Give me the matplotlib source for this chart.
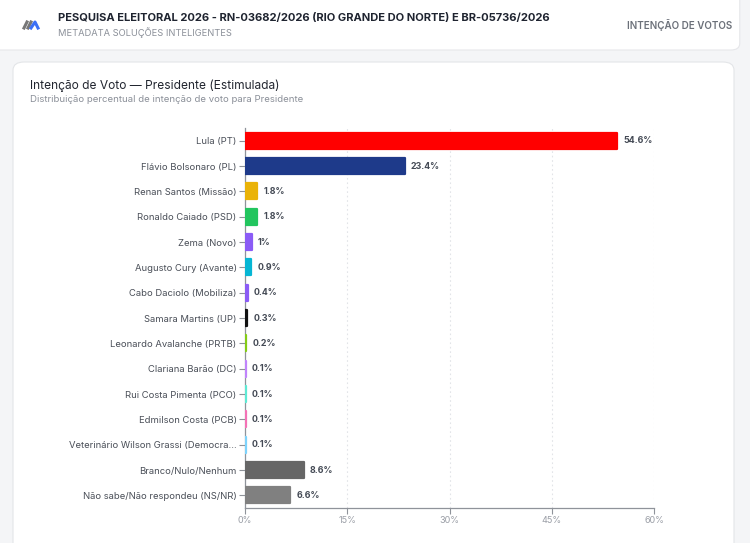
import matplotlib.pyplot as plt
from matplotlib.patches import FancyBboxPatch
from matplotlib.lines import Line2D

plt.rcParams['font.family'] = ['Inter', 'DejaVu Sans']

candidatos = [
    "Lula (PT)", "Flávio Bolsonaro (PL)", "Renan Santos (Missão)",
    "Ronaldo Caiado (PSD)", "Zema (Novo)", "Augusto Cury (Avante)",
    "Cabo Daciolo (Mobiliza)", "Samara Martins (UP)",
    "Leonardo Avalanche (PRTB)", "Clariana Barão (DC)",
    "Rui Costa Pimenta (PCO)", "Edmilson Costa (PCB)",
    "Veterinário Wilson Grassi (Democra...", "Branco/Nulo/Nenhum",
    "Não sabe/Não respondeu (NS/NR)",
]
percentuais = [54.6, 23.4, 1.8, 1.8, 1.0, 0.9, 0.4, 0.3, 0.2, 0.1, 0.1, 0.1, 0.1, 8.6, 6.6]
rotulos = ["54.6%", "23.4%", "1.8%", "1.8%", "1%", "0.9%", "0.4%", "0.3%",
           "0.2%", "0.1%", "0.1%", "0.1%", "0.1%", "8.6%", "6.6%"]
cores = ["#ff0000", "#1e3a8a", "#eab308", "#22c55e", "#8b5cf6", "#06b6d4",
         "#8b5cf6", "#111111", "#84cc16", "#c084fc", "#5eead4", "#f472b6",
         "#7dd3fc", "#666666", "#808080"]
ticks_x = [0, 15, 30, 45, 60]

fig = plt.figure(figsize=(7.5, 5.43), dpi=100)
fig.patch.set_facecolor("#f4f5f7")

# cabeçalho
cab = FancyBboxPatch((-0.02, 1 - 50 / 543), 0.013 + 745 / 750, 0.2,
                     boxstyle="round,pad=0,rounding_size=0.012",
                     transform=fig.transFigure, facecolor="white",
                     edgecolor="#e6e7ea", linewidth=0.8, zorder=0)
fig.patches.append(cab)

# cartão
card = FancyBboxPatch((13 / 750, -0.1), 721 / 750, 0.1 + 1 - 62 / 543,
                      boxstyle="round,pad=0,rounding_size=0.015",
                      transform=fig.transFigure, facecolor="white",
                      edgecolor="#e3e5e8", linewidth=0.8, zorder=0)
fig.patches.append(card)

# logo
fig.add_artist(Line2D([24 / 750, 27 / 750], [1 - 28 / 543, 1 - 22 / 543],
                      color="#777777", lw=2.2, transform=fig.transFigure))
fig.add_artist(Line2D([28 / 750, 31 / 750], [1 - 28 / 543, 1 - 22 / 543],
                      color="#777777", lw=2.2, transform=fig.transFigure))
fig.add_artist(Line2D([31 / 750, 35 / 750, 38 / 750], [1 - 28 / 543, 1 - 22 / 543, 1 - 28 / 543],
                      color="#3b6ff5", lw=2.2, transform=fig.transFigure))

fig.text(58 / 750, 1 - 18 / 543,
         "PESQUISA ELEITORAL 2026 - RN-03682/2026 (RIO GRANDE DO NORTE) E BR-05736/2026",
         fontsize=8.0, fontweight="bold", color="#1f2430", va="center")
fig.text(58 / 750, 1 - 33 / 543, "METADATA SOLUÇÕES INTELIGENTES",
         fontsize=6.7, color="#8a8f98", va="center")
fig.text(732 / 750, 1 - 25 / 543, "INTENÇÃO DE VOTOS", fontsize=7.1,
         fontweight="semibold", color="#6b7079", va="center", ha="right")

fig.text(30 / 750, 1 - 86 / 543, "Intenção de Voto — Presidente (Estimulada)",
         fontsize=8.6, color="#222630", va="center")
fig.text(30 / 750, 1 - 100 / 543,
         "Distribuição percentual de intenção de voto para Presidente",
         fontsize=6.9, color="#8a8f98", va="center")

ax = fig.add_axes([245 / 750, 1 - 508 / 543, 409 / 750, 380 / 543])
ax.set_zorder(2)
ax.set_facecolor("none")
posicoes = list(range(len(candidatos)))
ax.barh(posicoes, percentuais, height=0.64, color=cores, edgecolor=cores,
        linewidth=1.6, joinstyle="round", zorder=3)
for p, v, r in zip(posicoes, percentuais, rotulos):
    ax.annotate(r, (v, p), xytext=(4.5, 0), textcoords="offset points",
                va="center", ha="left", fontsize=6.4, fontweight="bold",
                color="#444a55", zorder=4)

ax.set_xlim(0, 60)
ax.set_ylim(14.5, -0.5)
ax.set_yticks(posicoes)
ax.set_yticklabels(candidatos, fontsize=6.8, color="#4a4f58")
ax.set_xticks(ticks_x)
ax.set_xticklabels([f"{t}%" for t in ticks_x], fontsize=6.5, color="#9a9ea6")
ax.grid(axis="x", color="#e2e4e8", linestyle=(0, (1.5, 2.5)), linewidth=0.8, zorder=0)
for lado in ["top", "right"]:
    ax.spines[lado].set_visible(False)
for lado in ["left", "bottom"]:
    ax.spines[lado].set_color("#8f939a")
    ax.spines[lado].set_linewidth(0.9)
ax.tick_params(axis="y", length=4, color="#8f939a", pad=2)
ax.tick_params(axis="x", length=4, color="#8f939a", pad=2)

fig.savefig("out.png", dpi=100)
